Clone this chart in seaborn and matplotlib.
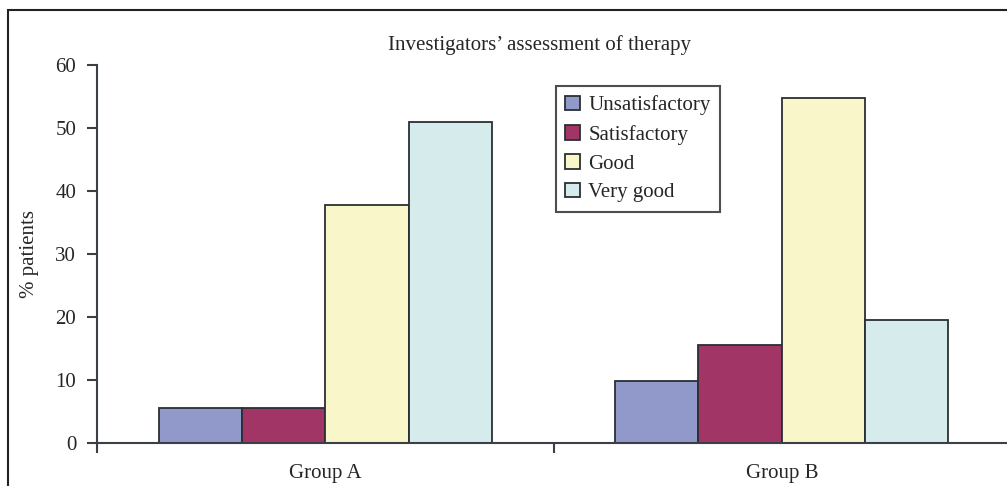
import matplotlib.pyplot as plt
import pandas as pd
import seaborn as sns
from matplotlib.patches import Rectangle

groups = ["Group A", "Group B"]
ratings = ["Unsatisfactory", "Satisfactory", "Good", "Very good"]
group_a = [5.6, 5.6, 37.8, 51.0]
group_b = [9.8, 15.6, 54.8, 19.5]
colors = ["#9099c9", "#a03566", "#f9f6c9", "#d6ebec"]

rows = []
for grp, vals in zip(groups, [group_a, group_b]):
    for r, v in zip(ratings, vals):
        rows.append({"group": grp, "rating": r, "pct": v})
df = pd.DataFrame(rows)

sns.set_theme(style="white")
plt.rcParams["font.family"] = ["Liberation Serif", "DejaVu Serif"]
FS = 15

fig = plt.figure(figsize=(10.07, 4.86), dpi=100)
W, H = 1007, 486
ax = fig.add_axes([97 / W, 43 / H, (1010 - 97) / W, (443 - 65) / H])

sns.barplot(
    data=df, x="group", y="pct", hue="rating", hue_order=ratings,
    palette=colors, width=0.73, gap=0, edgecolor="#2a2f33", linewidth=1.3,
    saturation=1, ax=ax,
)

ax.set_xlim(-0.5, 1.5)
ax.set_ylim(0, 60)
ax.set_yticks(range(0, 61, 10))
ax.set_xticks([-0.5, 0.5, 1.5])
ax.set_xticklabels([])
ax.set_xticks([0, 1], minor=True)
ax.set_xticklabels(groups, minor=True, fontsize=FS)
ax.tick_params(axis="x", which="major", direction="out", length=7, width=1.5,
               color="#3a4046", bottom=True)
ax.tick_params(axis="x", which="minor", length=0, pad=15)
ax.tick_params(axis="y", direction="out", length=7, width=1.5, color="#3a4046",
               left=True, labelsize=FS, pad=8)
for side in ["top", "right"]:
    ax.spines[side].set_visible(False)
for side in ["left", "bottom"]:
    ax.spines[side].set_color("#3a4046")
    ax.spines[side].set_linewidth(1.5)

ax.set_xlabel("")
ax.set_ylabel("% patients", fontsize=FS, labelpad=12)
fig.text(540 / W, 1 - 45 / H, "Investigators\u2019 assessment of therapy",
         ha="center", va="center", fontsize=FS)

leg = ax.legend(
    loc="upper left", bbox_to_anchor=(556 / W, 1 - 86 / H),
    bbox_transform=fig.transFigure, borderaxespad=0, fontsize=FS,
    frameon=True, fancybox=False, handlelength=0.7, handleheight=0.7,
    handletextpad=0.4, labelspacing=0.45, borderpad=0.45, title=None,
)
leg.get_frame().set_edgecolor("#222222")
leg.get_frame().set_linewidth(1.5)

# outer frame around the figure
fig.patches.append(Rectangle((8 / W, -0.05), 1.1, 1 - 10 / H + 0.05,
                             transform=fig.transFigure, fill=False,
                             edgecolor="#222222", linewidth=1.5))

fig.savefig("out.png", dpi=100)
